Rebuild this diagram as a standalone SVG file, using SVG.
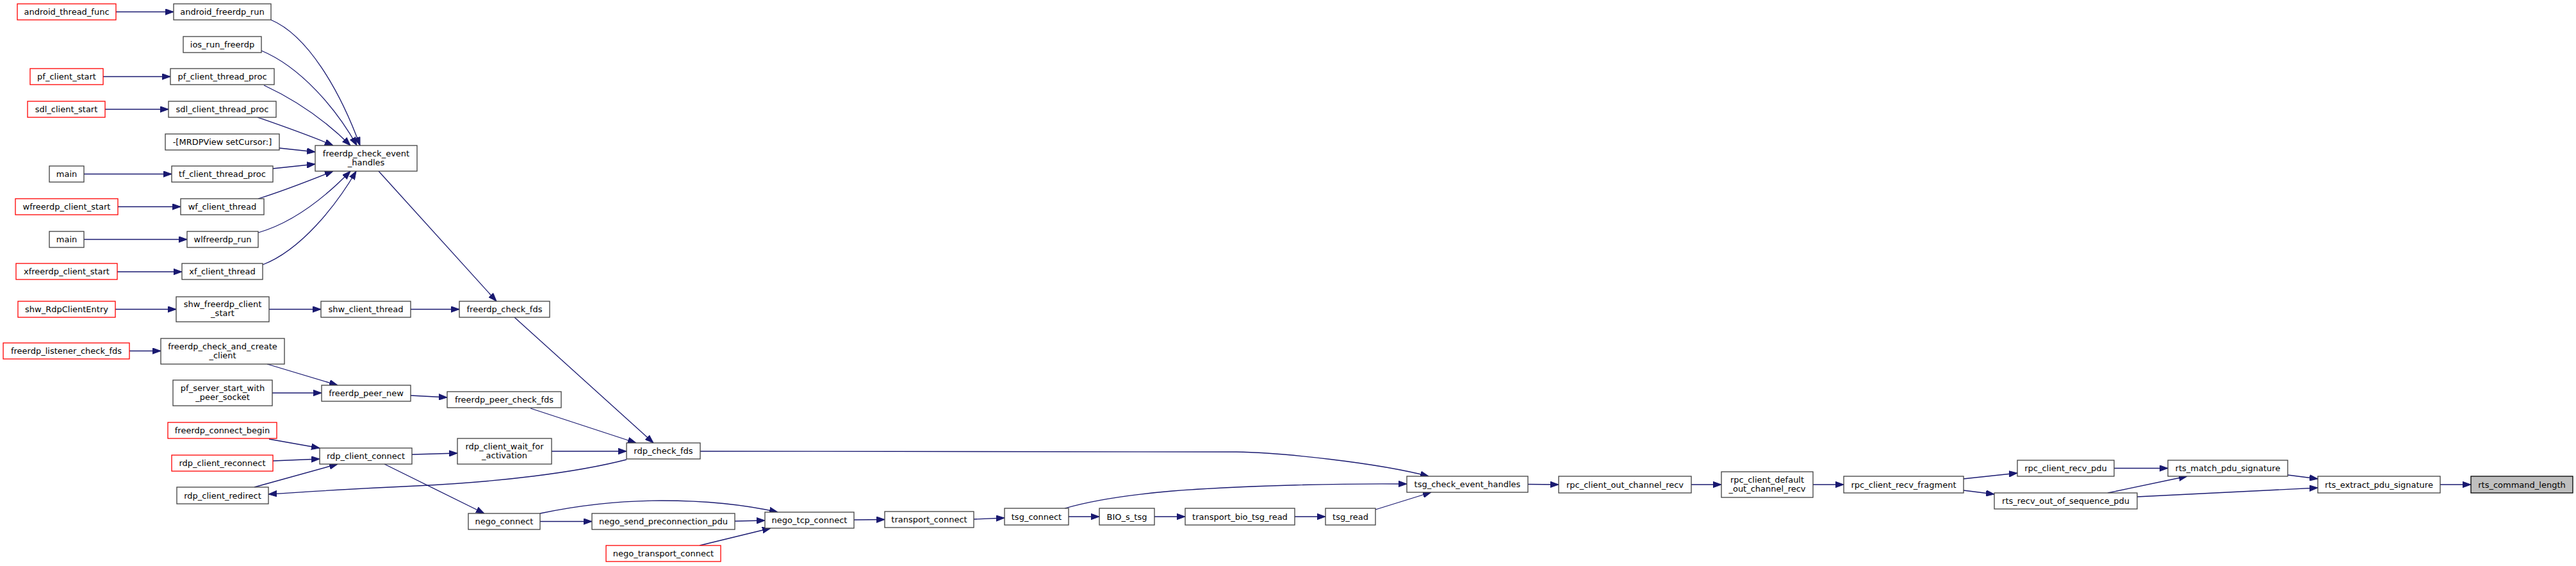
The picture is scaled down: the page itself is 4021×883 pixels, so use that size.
<svg xmlns="http://www.w3.org/2000/svg" width="4021" height="883" viewBox="0 0 4021 883">
<style>
.n rect{fill:#fff;stroke:#404040;stroke-width:1.3}
.r rect{fill:#fff;stroke:#ff0000;stroke-width:1.3}
.h rect{fill:#bfbfbf;stroke:#000;stroke-width:1.3}
text{font-family:"DejaVu Sans","Liberation Sans",sans-serif;font-size:13px;text-anchor:middle;fill:#000}
#edges path{fill:none;stroke:#191970;stroke-width:1.3;marker-end:url(#a)}
</style>
<defs>
<marker id="a" markerUnits="userSpaceOnUse" markerWidth="13" markerHeight="10" viewBox="0 0 13 10" refX="13" refY="5" orient="auto"><path d="M0,0.3 L13,5 L0,9.7 z" fill="#191970" stroke="#191970" stroke-width="1"/></marker>
</defs>
<rect width="4021" height="883" fill="#fff"/>
<g id="edges">
<path d="M181,18.5 L271,18.5"/>
<path d="M161,119.5 L266,119.5"/>
<path d="M164,170.5 L263,170.5"/>
<path d="M131,271.5 L268,271.5"/>
<path d="M184,322.5 L282,322.5"/>
<path d="M131,373.5 L292,373.5"/>
<path d="M183,424 L284,424"/>
<path d="M180,482.5 L275,482.5"/>
<path d="M420,482.5 L501,482.5"/>
<path d="M641,482.5 L717,482.5"/>
<path d="M202,547.5 L251,547.5"/>
<path d="M417,568 L527,601"/>
<path d="M425,613 L502,613"/>
<path d="M641,617 L698,620"/>
<path d="M828,637 L993,691"/>
<path d="M803,495 L1020,691"/>
<path d="M591,267 L775,470"/>
<path d="M861,704 L978,704"/>
<path d="M643,709 L714,707"/>
<path d="M420,685 L499,699"/>
<path d="M426,719 L499,716"/>
<path d="M397,760 L527,724"/>
<path d="M978,717 C900,737 780,752 650,758 C560,762 480,767 419,771"/>
<path d="M600,724 L756,801"/>
<path d="M843,813.5 L924,813.5"/>
<path d="M843,801 C900,789 960,781 1033,781 C1110,781 1170,789 1214,799"/>
<path d="M1147,813 L1194,812"/>
<path d="M1092,851 L1203,824"/>
<path d="M1333,811 L1381,810.5"/>
<path d="M1520,810 L1568,808"/>
<path d="M1668,806 L1716,806"/>
<path d="M1802,806 L1850,806"/>
<path d="M2021,806 L2069,806"/>
<path d="M2147,795 L2234,768"/>
<path d="M1662,793 C1700,782 1760,772 1830,766 C1950,757 2100,754 2196,755"/>
<path d="M1093,704 L1930,705 C2000,706 2150,722 2230,743"/>
<path d="M2385,755.5 L2433,756"/>
<path d="M2640,756 L2687,756"/>
<path d="M2830,756 L2878,756"/>
<path d="M3065,747 L3149,738"/>
<path d="M3065,765 L3113,771"/>
<path d="M3300,730.5 L3384,730.5"/>
<path d="M3290,769 L3414,743"/>
<path d="M3571,741 L3618,747"/>
<path d="M3336,775 L3618,761"/>
<path d="M3809,756 L3857,756"/>
<path d="M423,31 C480,55 530,140 562,227"/>
<path d="M408,79 C470,105 525,170 557,227"/>
<path d="M412,133 C470,160 515,195 547,227"/>
<path d="M402,183 C445,198 480,210 520,227"/>
<path d="M436,231 L492,237"/>
<path d="M426,263 L492,256"/>
<path d="M403,310 C445,297 480,283 520,267"/>
<path d="M403,363 C465,345 515,300 547,267"/>
<path d="M410,413 C470,390 525,320 556,267"/>
</g>
<g id="android_thread_func" class="r"><rect x="27" y="6" width="154" height="25"/><text x="104" y="23">android_thread_func</text></g>
<g id="pf_client_start" class="r"><rect x="47" y="107" width="114" height="25"/><text x="104" y="124">pf_client_start</text></g>
<g id="sdl_client_start" class="r"><rect x="43" y="158" width="121" height="25"/><text x="103.5" y="175">sdl_client_start</text></g>
<g id="main1" class="n"><rect x="77" y="259" width="54" height="25"/><text x="104" y="276">main</text></g>
<g id="wfreerdp_client_start" class="r"><rect x="24" y="310" width="160" height="25"/><text x="104" y="327">wfreerdp_client_start</text></g>
<g id="main2" class="n"><rect x="77" y="361" width="54" height="25"/><text x="104" y="378">main</text></g>
<g id="xfreerdp_client_start" class="r"><rect x="25" y="411" width="158" height="25"/><text x="104" y="428">xfreerdp_client_start</text></g>
<g id="shw_RdpClientEntry" class="r"><rect x="28" y="470" width="152" height="25"/><text x="104" y="487">shw_RdpClientEntry</text></g>
<g id="freerdp_listener_check_fds" class="r"><rect x="5" y="535" width="197" height="25"/><text x="103.5" y="552">freerdp_listener_check_fds</text></g>
<g id="android_freerdp_run" class="n"><rect x="271" y="6" width="152" height="25"/><text x="347" y="23">android_freerdp_run</text></g>
<g id="ios_run_freerdp" class="n"><rect x="286" y="57" width="122" height="25"/><text x="347" y="74">ios_run_freerdp</text></g>
<g id="pf_client_thread_proc" class="n"><rect x="266" y="107" width="162" height="25"/><text x="347" y="124">pf_client_thread_proc</text></g>
<g id="sdl_client_thread_proc" class="n"><rect x="263" y="158" width="168" height="25"/><text x="347" y="175">sdl_client_thread_proc</text></g>
<g id="MRDPView_setCursor" class="n"><rect x="258" y="209" width="178" height="25"/><text x="347" y="226">-[MRDPView setCursor:]</text></g>
<g id="tf_client_thread_proc" class="n"><rect x="268" y="259" width="158" height="25"/><text x="347" y="276">tf_client_thread_proc</text></g>
<g id="wf_client_thread" class="n"><rect x="282" y="310" width="130" height="25"/><text x="347" y="327">wf_client_thread</text></g>
<g id="wlfreerdp_run" class="n"><rect x="292" y="361" width="111" height="25"/><text x="347.5" y="378">wlfreerdp_run</text></g>
<g id="xf_client_thread" class="n"><rect x="284" y="411" width="126" height="25"/><text x="347" y="428">xf_client_thread</text></g>
<g id="shw_freerdp_client_start" class="n"><rect x="275" y="463" width="145" height="39"/><text x="347.5" y="479">shw_freerdp_client</text><text x="347.5" y="493">_start</text></g>
<g id="freerdp_check_and_create_client" class="n"><rect x="251" y="528" width="193" height="40"/><text x="347.5" y="544.5">freerdp_check_and_create</text><text x="347.5" y="558.5">_client</text></g>
<g id="pf_server_start_with_peer_socket" class="n"><rect x="270" y="593" width="155" height="40"/><text x="347.5" y="609.5">pf_server_start_with</text><text x="347.5" y="623.5">_peer_socket</text></g>
<g id="freerdp_connect_begin" class="r"><rect x="262" y="659" width="170" height="25"/><text x="347" y="676">freerdp_connect_begin</text></g>
<g id="rdp_client_reconnect" class="r"><rect x="268" y="710" width="158" height="25"/><text x="347" y="727">rdp_client_reconnect</text></g>
<g id="rdp_client_redirect" class="n"><rect x="276" y="760" width="143" height="26"/><text x="347.5" y="777.5">rdp_client_redirect</text></g>
<g id="freerdp_check_event_handles" class="n"><rect x="492" y="227" width="159" height="40"/><text x="571.5" y="243.5">freerdp_check_event</text><text x="571.5" y="257.5">_handles</text></g>
<g id="shw_client_thread" class="n"><rect x="501" y="470" width="140" height="25"/><text x="571" y="487">shw_client_thread</text></g>
<g id="freerdp_peer_new" class="n"><rect x="502" y="601" width="139" height="25"/><text x="571.5" y="618">freerdp_peer_new</text></g>
<g id="rdp_client_connect" class="n"><rect x="499" y="699" width="144" height="25"/><text x="571" y="716">rdp_client_connect</text></g>
<g id="freerdp_check_fds" class="n"><rect x="717" y="470" width="141" height="25"/><text x="787.5" y="487">freerdp_check_fds</text></g>
<g id="freerdp_peer_check_fds" class="n"><rect x="698" y="611" width="178" height="25"/><text x="787" y="628">freerdp_peer_check_fds</text></g>
<g id="rdp_client_wait_for_activation" class="n"><rect x="714" y="684" width="147" height="40"/><text x="787.5" y="700.5">rdp_client_wait_for</text><text x="787.5" y="714.5">_activation</text></g>
<g id="nego_connect" class="n"><rect x="731" y="801" width="112" height="25"/><text x="787" y="818">nego_connect</text></g>
<g id="rdp_check_fds" class="n"><rect x="978" y="691" width="115" height="25"/><text x="1035.5" y="708">rdp_check_fds</text></g>
<g id="nego_send_preconnection_pdu" class="n"><rect x="924" y="801" width="223" height="25"/><text x="1035.5" y="818">nego_send_preconnection_pdu</text></g>
<g id="nego_transport_connect" class="r"><rect x="946" y="851" width="179" height="25"/><text x="1035.5" y="868">nego_transport_connect</text></g>
<g id="nego_tcp_connect" class="n"><rect x="1194" y="799" width="139" height="25"/><text x="1263.5" y="816">nego_tcp_connect</text></g>
<g id="transport_connect" class="n"><rect x="1381" y="798" width="139" height="25"/><text x="1450.5" y="815">transport_connect</text></g>
<g id="tsg_connect" class="n"><rect x="1568" y="793" width="100" height="26"/><text x="1618" y="810.5">tsg_connect</text></g>
<g id="BIO_s_tsg" class="n"><rect x="1716" y="793" width="86" height="26"/><text x="1759" y="810.5">BIO_s_tsg</text></g>
<g id="transport_bio_tsg_read" class="n"><rect x="1850" y="793" width="171" height="26"/><text x="1935.5" y="810.5">transport_bio_tsg_read</text></g>
<g id="tsg_read" class="n"><rect x="2069" y="793" width="78" height="26"/><text x="2108" y="810.5">tsg_read</text></g>
<g id="tsg_check_event_handles" class="n"><rect x="2196" y="743" width="189" height="25"/><text x="2290.5" y="760">tsg_check_event_handles</text></g>
<g id="rpc_client_out_channel_recv" class="n"><rect x="2433" y="743" width="207" height="26"/><text x="2536.5" y="760.5">rpc_client_out_channel_recv</text></g>
<g id="rpc_client_default_out_channel_recv" class="n"><rect x="2687" y="736" width="143" height="40"/><text x="2758.5" y="752.5">rpc_client_default</text><text x="2758.5" y="766.5">_out_channel_recv</text></g>
<g id="rpc_client_recv_fragment" class="n"><rect x="2878" y="743" width="187" height="26"/><text x="2971.5" y="760.5">rpc_client_recv_fragment</text></g>
<g id="rpc_client_recv_pdu" class="n"><rect x="3149" y="718" width="151" height="25"/><text x="3224.5" y="735">rpc_client_recv_pdu</text></g>
<g id="rts_recv_out_of_sequence_pdu" class="n"><rect x="3113" y="769" width="223" height="25"/><text x="3224.5" y="786">rts_recv_out_of_sequence_pdu</text></g>
<g id="rts_match_pdu_signature" class="n"><rect x="3384" y="718" width="187" height="25"/><text x="3477.5" y="735">rts_match_pdu_signature</text></g>
<g id="rts_extract_pdu_signature" class="n"><rect x="3618" y="743" width="191" height="26"/><text x="3713.5" y="760.5">rts_extract_pdu_signature</text></g>
<g id="rts_command_length" class="h"><rect x="3857" y="743" width="159" height="26"/><text x="3936.5" y="760.5">rts_command_length</text></g>
</svg>
